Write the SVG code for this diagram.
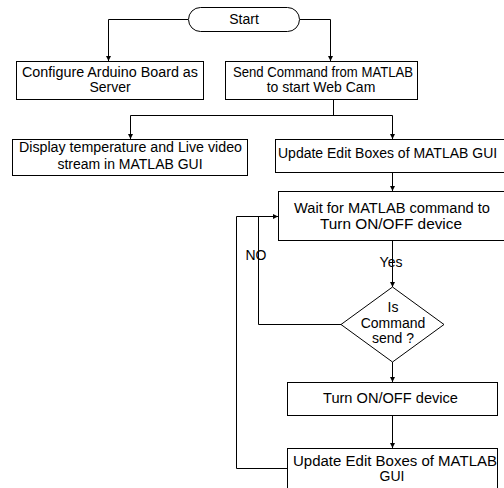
<svg xmlns="http://www.w3.org/2000/svg" width="504" height="488" viewBox="0 0 504 488">
<defs>
<marker id="ah" viewBox="0 0 10 10" refX="10" refY="5" markerWidth="5" markerHeight="6" orient="auto" markerUnits="userSpaceOnUse"><path d="M0,0 L10,5 L0,10 z" fill="#000"/></marker>
<style>
.b{fill:#fff;stroke:#000;stroke-width:1}
.t{font-family:"Liberation Sans",Arial,sans-serif;font-size:14px;fill:#000;text-anchor:middle}
.c{fill:none;stroke:#000;stroke-width:1}
.a{marker-end:url(#ah)}
</style>
</defs>
<rect width="504" height="488" fill="#fff"/>
<g id="connectors">
<path class="c a" d="M188,19.5 H108.5 V61"/>
<path class="c a" d="M300,19.5 H330.5 V61"/>
<path class="c" d="M333.5,99 V115.5"/>
<path class="c a" d="M130.5,115.5 V139"/>
<path class="c a" d="M130.5,115.5 H392.5 V139"/>
<path class="c a" d="M392.5,172 V191"/>
<path class="c a" d="M392.5,240 V287"/>
<path class="c" d="M341,324.5 H258.5 V216.5"/>
<path class="c a" d="M287,468.5 H236.5 V216.5 H278"/>
<path class="c a" d="M392.5,362 V382"/>
<path class="c a" d="M392.5,415 V448"/>
</g>
<g id="start">
<rect class="b" x="188.5" y="7.5" width="111" height="24" rx="12" ry="12"/>
<text class="t" x="244" y="24">Start</text>
</g>
<g id="configure">
<rect class="b" x="16.5" y="61.5" width="187" height="38"/>
<text class="t" x="110" y="77" textLength="176" lengthAdjust="spacingAndGlyphs">Configure Arduino Board as</text>
<text class="t" x="110" y="92">Server</text>
</g>
<g id="send">
<rect class="b" x="225.5" y="61.5" width="192" height="38"/>
<text class="t" x="323" y="77" textLength="180" lengthAdjust="spacingAndGlyphs">Send Command from MATLAB</text>
<text class="t" x="321" y="92">to start Web Cam</text>
</g>
<g id="display">
<rect class="b" x="12.5" y="139.5" width="235" height="36"/>
<text class="t" x="130.5" y="152" textLength="223" lengthAdjust="spacingAndGlyphs">Display temperature and Live video</text>
<text class="t" x="130" y="169">stream in MATLAB GUI</text>
</g>
<g id="update1">
<rect class="b" x="275.5" y="139.5" width="240" height="33"/>
<text class="t" x="278" y="158" style="text-anchor:start">Update Edit Boxes of MATLAB GUI</text>
</g>
<g id="wait">
<rect class="b" x="278.5" y="191.5" width="240" height="49"/>
<text class="t" x="392" y="213" textLength="196" lengthAdjust="spacingAndGlyphs">Wait for MATLAB command to</text>
<text class="t" x="391" y="229" textLength="142" lengthAdjust="spacingAndGlyphs">Turn ON/OFF device</text>
</g>
<g id="decision">
<path class="b" d="M392.5,287 L444,324.5 L392.5,362 L341,324.5 z"/>
<text class="t" x="393" y="312">Is</text>
<text class="t" x="393" y="328">Command</text>
<text class="t" x="393" y="343">send ?</text>
</g>
<text class="t" x="391" y="267">Yes</text>
<text class="t" x="256" y="260">NO</text>
<g id="turn">
<rect class="b" x="287.5" y="382.5" width="210" height="33"/>
<text class="t" x="390.5" y="403" textLength="135" lengthAdjust="spacingAndGlyphs">Turn ON/OFF device</text>
</g>
<g id="update2">
<rect class="b" x="287.5" y="448.5" width="210" height="45"/>
<text class="t" x="395" y="466" textLength="204" lengthAdjust="spacingAndGlyphs">Update Edit Boxes of MATLAB</text>
<text class="t" x="392" y="481">GUI</text>
</g>
</svg>
